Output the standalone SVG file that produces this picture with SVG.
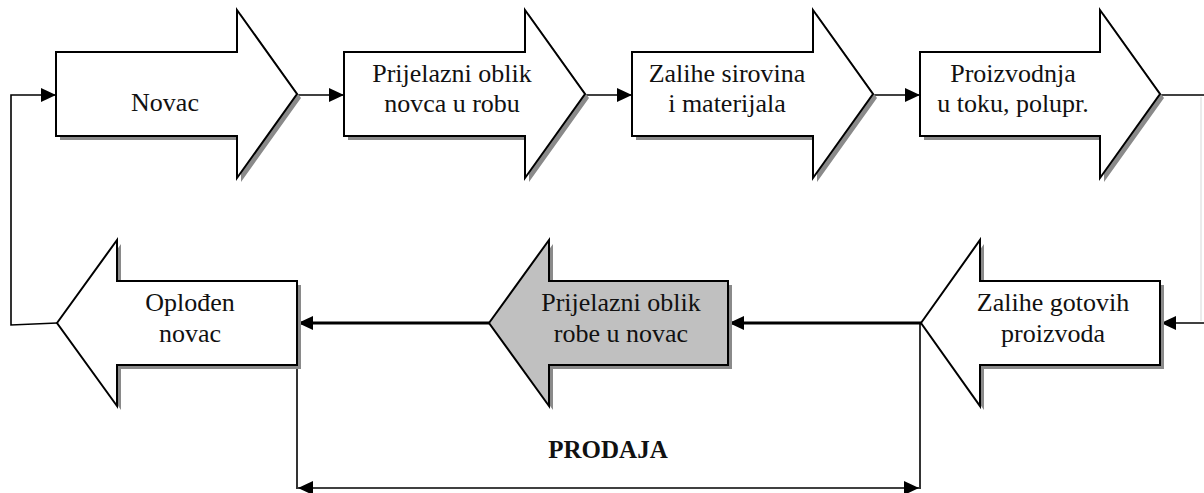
<svg xmlns="http://www.w3.org/2000/svg" width="1204" height="493" viewBox="0 0 1204 493">
<defs>
<marker id="ah" markerUnits="userSpaceOnUse" markerWidth="16" markerHeight="14" refX="15" refY="7" orient="auto-start-reverse">
<path d="M0,0 L15,7 L0,14 Z" fill="#000"/>
</marker>
</defs>
<style>
.sh{fill:#8a8a8a;stroke:none}
.ar{fill:#fff;stroke:#000;stroke-width:2;stroke-linejoin:miter}
.gr{fill:#c0c0c0;stroke:#000;stroke-width:2}
.t{font-family:"Liberation Serif","Times New Roman",serif;font-size:26px;fill:#111;text-anchor:middle}
.b{font-weight:bold;font-size:25px}
.c{fill:none;stroke:#000;stroke-width:1.6}
.ck{fill:none;stroke:#000;stroke-width:3}
</style>
<rect width="1204" height="493" fill="#fff"/>
<g id="connectors">
<polyline class="c" points="57,323 11,325 11,95 56,95" marker-end="url(#ah)"/>
<line class="c" x1="297" y1="95" x2="344" y2="95" marker-end="url(#ah)"/>
<line class="c" x1="585" y1="95" x2="632" y2="95" marker-end="url(#ah)"/>
<line class="c" x1="873" y1="95" x2="920" y2="95" marker-end="url(#ah)"/>
<line class="c" x1="1160" y1="95" x2="1204" y2="95"/>
<line x1="1201" y1="97" x2="1201" y2="321" stroke="#e4e4e4" stroke-width="1.5"/>
<line class="c" x1="1204" y1="323" x2="1161" y2="323" marker-end="url(#ah)"/>
<line class="ck" x1="921" y1="323" x2="729" y2="323" marker-end="url(#ah)"/>
<line class="ck" x1="489" y1="323" x2="298" y2="323" marker-end="url(#ah)"/>
<line class="c" x1="297" y1="365" x2="297" y2="489"/>
<line class="c" x1="920" y1="323" x2="920" y2="489"/>
<line class="c" x1="298" y1="488" x2="919" y2="488" marker-start="url(#ah)" marker-end="url(#ah)"/>
</g>
<g id="novac">
<polygon class="sh" points="60,56 241,56 241,14 301,98 241,182 241,140 60,140"/>
<polygon class="ar" points="56,52 237,52 237,10 297,94 237,178 237,136 56,136"/>
<text class="t" x="165" y="111">Novac</text>
</g>
<g id="novac-u-robu">
<polygon class="sh" points="348,56 529,56 529,14 589,98 529,182 529,140 348,140"/>
<polygon class="ar" points="344,52 525,52 525,10 585,94 525,178 525,136 344,136"/>
<text class="t" x="452" y="82">Prijelazni oblik</text>
<text class="t" x="452" y="112">novca u robu</text>
</g>
<g id="zalihe-sirovina">
<polygon class="sh" points="636,56 817,56 817,14 877,98 817,182 817,140 636,140"/>
<polygon class="ar" points="632,52 813,52 813,10 873,94 813,178 813,136 632,136"/>
<text class="t" x="727" y="82">Zalihe sirovina</text>
<text class="t" x="727" y="112">i materijala</text>
</g>
<g id="proizvodnja">
<polygon class="sh" points="924,56 1104,56 1104,14 1164,98 1104,182 1104,140 924,140"/>
<polygon class="ar" points="920,52 1100,52 1100,10 1160,94 1100,178 1100,136 920,136"/>
<text class="t" x="1013" y="82">Proizvodnja</text>
<text class="t" x="1013" y="112">u toku, polupr.</text>
</g>
<g id="zalihe-gotovih">
<polygon class="sh" points="925,327 984,244 984,285 1164,285 1164,369 984,369 984,410"/>
<polygon class="ar" points="921,323 980,240 980,281 1160,281 1160,365 980,365 980,406"/>
<text class="t" x="1053" y="311">Zalihe gotovih</text>
<text class="t" x="1053" y="342">proizvoda</text>
</g>
<g id="robe-u-novac">
<polygon class="sh" points="493,327 553,244 553,285 732,285 732,369 553,369 553,410"/>
<polygon class="gr" points="489,323 549,240 549,281 728,281 728,365 549,365 549,406"/>
<text class="t" x="621" y="311">Prijelazni oblik</text>
<text class="t" x="621" y="342">robe u novac</text>
</g>
<g id="oplodjen-novac">
<polygon class="sh" points="61,327 121,244 121,285 301,285 301,369 121,369 121,410"/>
<polygon class="ar" points="57,323 117,240 117,281 297,281 297,365 117,365 117,406"/>
<text class="t" x="190" y="311">Oplođen</text>
<text class="t" x="190" y="342">novac</text>
</g>
<g id="prodaja">
<text class="t b" x="608" y="458">PRODAJA</text>
</g>
</svg>
